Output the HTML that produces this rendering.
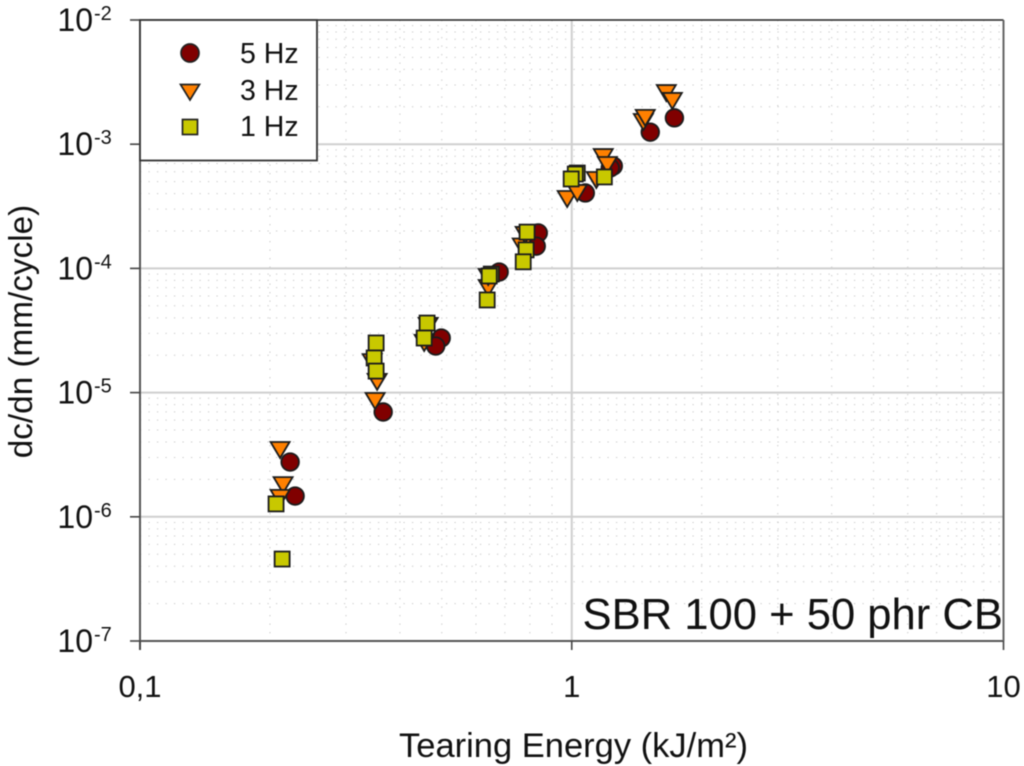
<!DOCTYPE html>
<html>
<head>
<meta charset="utf-8">
<style>
html,body{margin:0;padding:0;background:#fff;width:1024px;height:766px;overflow:hidden}
svg{display:block;filter:blur(0.45px)}
text{font-family:"Liberation Sans",sans-serif;fill:#111}
</style>
</head>
<body>
<svg id="chart" width="1024" height="766" viewBox="0 0 1024 766" xmlns="http://www.w3.org/2000/svg">
<g id="grid-minor"></g>
<g id="grid-major"></g>
<g id="frame"></g>
<g id="ticks"></g>
<g id="series"></g>
<g id="legend">
<rect x="140" y="20" width="177" height="140.500" fill="#fff" stroke="#333" stroke-width="1.8"/>
<circle cx="190" cy="53" r="9" fill="#800000" stroke="#222" stroke-width="1.7"/>
<polygon points="180.500,84.500 199.500,84.500 190,100" fill="#ff8000" stroke="#222" stroke-width="1.7"/>
<rect x="182.500" y="119.500" width="15" height="15" fill="#c8c800" stroke="#222" stroke-width="1.7"/>
<text x="240" y="63" font-size="28.500">5 Hz</text>
<text x="240" y="100" font-size="28.500">3 Hz</text>
<text x="240" y="136" font-size="28.500">1 Hz</text>
</g>
<text x="573.500" y="757" font-size="34.500" text-anchor="middle">Tearing Energy (kJ/m²)</text>
<text transform="translate(32,331.500) rotate(-90)" font-size="33.300" text-anchor="middle">dc/dn (mm/cycle)</text>
<text x="1003" y="629" font-size="43.600" text-anchor="end">SBR 100 + 50 phr CB</text>
</svg>
<script>
const xDecades = [0.1, 1, 10];
const xTickLabels = ["0,1", "1", "10"];
const yExponents = [-2, -3, -4, -5, -6, -7];

const energy5Hz = [0.2227, 0.2287, 0.3658, 0.4985, 0.484, 0.679, 1.248, 1.228, 1.075, 1.52, 1.729, 0.8365, 0.8275];
const rate5Hz = [2.76e-6, 1.47e-6, 6.98e-6, 2.75e-5, 2.37e-5, 9.35e-5, 6.67e-4, 6.44e-4, 4.05e-4, 1.25e-3, 1.63e-3, 1.93e-4, 1.51e-4];

const energy3Hz = [0.2111, 0.2145, 0.2111, 0.3504, 0.3542, 0.345, 0.4552, 0.465, 1.656, 1.71, 1.465, 1.48, 1.183, 1.209, 1.14, 0.976, 1.03, 0.6405, 0.6405, 0.768, 0.78];
const rate3Hz = [3.45e-6, 1.8e-6, 1.42e-6, 8.56e-6, 1.22e-5, 1.76e-5, 2.51e-5, 3.44e-5, 2.58e-3, 2.23e-3, 1.51e-3, 1.63e-3, 7.88e-4, 6.8e-4, 5.15e-4, 3.62e-4, 4.05e-4, 6.95e-5, 8.53e-5, 1.5e-4, 1.86e-4];

const energy1Hz = [1.03, 1.019, 0.997, 1.19, 0.788, 0.784, 0.772, 0.651, 0.644, 0.637, 0.3523, 0.3486, 0.3523, 0.4624, 0.4552, 0.2066, 0.2134];
const rate1Hz = [5.86e-4, 5.75e-4, 5.25e-4, 5.45e-4, 1.96e-4, 1.41e-4, 1.13e-4, 9e-5, 8.69e-5, 5.57e-5, 2.51e-5, 1.9e-5, 1.49e-5, 3.63e-5, 2.75e-5, 1.27e-6, 4.57e-7];

const SVG_NS = 'http://www.w3.org/2000/svg';
const plotLeft = 140, plotRight = 1003.5, plotTop = 20, plotBottom = 641;
const xScale = v => plotLeft + (Math.log10(v) + 1) * (plotRight - plotLeft) / 2;
const yScale = v => plotTop + (-2 - Math.log10(v)) * (plotBottom - plotTop) / 5;

function make(tag, attrs, parent) {
  const el = document.createElementNS(SVG_NS, tag);
  for (const k in attrs) el.setAttribute(k, attrs[k]);
  parent.appendChild(el);
  return el;
}

const gMinor = document.getElementById('grid-minor');
const gMajor = document.getElementById('grid-major');
const gFrame = document.getElementById('frame');
const gTicks = document.getElementById('ticks');
const gSeries = document.getElementById('series');
const minorStyle = {stroke: '#c6c6c6', 'stroke-width': 1, 'stroke-dasharray': '1.200 7.300'};

for (let d = 0; d < 2; d++) {
  for (let m = 2; m <= 9; m++) {
    const x = xScale(xDecades[d] * m);
    const line = make('line', Object.assign({x1: x, x2: x, y1: plotTop, y2: plotBottom}, minorStyle), gMinor);
    
    
  }
}
for (let e = 0; e < yExponents.length - 1; e++) {
  for (let m = 2; m <= 9; m++) {
    const y = yScale(m * Math.pow(10, yExponents[e + 1]));
    const line = make('line', Object.assign({x1: plotLeft, x2: plotRight, y1: y, y2: y}, minorStyle), gMinor);
    
    
  }
}

const midLine = make('line', {x1: xScale(1), x2: xScale(1), y1: plotTop, y2: plotBottom, stroke: '#cfcfcf', 'stroke-width': 2}, gMajor);



yExponents.forEach((exp, i) => {
  const y = yScale(Math.pow(10, exp));
  if (i > 0 && i < yExponents.length - 1) {
    const grid = make('line', {x1: plotLeft, x2: plotRight, y1: y, y2: y, stroke: '#cfcfcf', 'stroke-width': 2}, gMajor);
    
    
  }
  const tick = make('line', {x1: 130, x2: plotLeft, y1: y, y2: y, stroke: '#444', 'stroke-width': 1.6}, gTicks);
  
  
  const label = make('text', {x: 93, y: y + 11, 'font-size': 32, 'text-anchor': 'end'}, gTicks);
  
  
  label.textContent = '10';
  const sup = make('text', {x: 94, y: y, 'font-size': 20}, gTicks);
  
  
  sup.textContent = String(exp);
});

xDecades.forEach((v, i) => {
  const x = xScale(v);
  const tick = make('line', {x1: x, x2: x, y1: plotBottom, y2: 650, stroke: '#444', 'stroke-width': 1.6}, gTicks);
  
  
  const label = make('text', {x: x, y: 697, 'font-size': 31, 'text-anchor': 'middle'}, gTicks);
  
  
  label.textContent = xTickLabels[i];
});

const topEdge = make('line', {x1: plotLeft, x2: plotRight, y1: plotTop, y2: plotTop, stroke: '#222', 'stroke-width': 1.6}, gFrame);


const bottomEdge = make('line', {x1: plotLeft, x2: plotRight, y1: plotBottom, y2: plotBottom, stroke: '#555', 'stroke-width': 2}, gFrame);


const leftEdge = make('line', {x1: plotLeft, x2: plotLeft, y1: plotTop, y2: plotBottom + 9, stroke: '#555', 'stroke-width': 2}, gFrame);


const rightEdge = make('line', {x1: plotRight, x2: plotRight, y1: plotTop, y2: plotBottom, stroke: '#666', 'stroke-width': 2}, gFrame);



const markerStroke = {stroke: '#1c1c1c', 'stroke-width': 1.8};
energy5Hz.forEach((v, i) => {
  const c = make('circle', Object.assign({cx: xScale(v), cy: yScale(rate5Hz[i]), r: 8.8, fill: '#800000'}, markerStroke), gSeries);
  
  
});
energy3Hz.forEach((v, i) => {
  const x = xScale(v), y = yScale(rate3Hz[i]);
  const t = make('polygon', Object.assign({points: (x - 9.5) + ',' + (y - 8) + ' ' + (x + 9.5) + ',' + (y - 8) + ' ' + x + ',' + (y + 8), fill: '#ff8000'}, markerStroke), gSeries);
  
  
});
energy1Hz.forEach((v, i) => {
  const s = make('rect', Object.assign({x: xScale(v) - 7.5, y: yScale(rate1Hz[i]) - 7.5, width: 15, height: 15, fill: '#c8c800'}, markerStroke), gSeries);
  
  
});
</script>
</body>
</html>
